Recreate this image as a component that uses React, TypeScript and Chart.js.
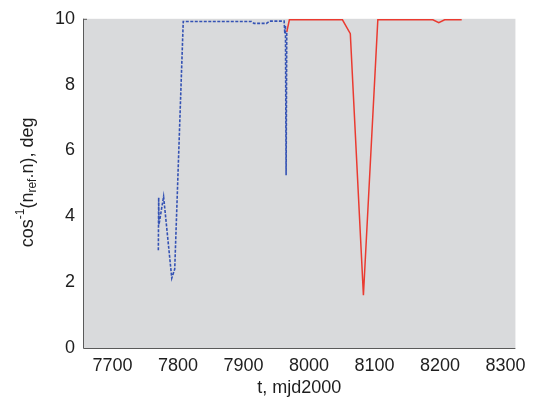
import React, { useEffect, useRef } from "react";
import { Chart, registerables } from "chart.js";

Chart.register(...registerables);

// ---- data ----
const xTickValues = [7700, 7800, 7900, 8000, 8100, 8200, 8300];
const yTickValues = [0, 2, 4, 6, 8, 10];

const blueT = [7770, 7770.5, 7771, 7778, 7790.5, 7795, 7808, 7912, 7916, 7935, 7940, 7962, 7963, 7964, 7965, 7966];
const blueV = [2.97, 4.57, 3.75, 4.6, 2.12, 2.4, 9.92, 9.92, 9.86, 9.86, 9.93, 9.93, 9.55, 9.8, 5.25, 9.6];

const redT = [7966, 7970, 8051, 8063, 8083, 8105, 8189, 8198, 8207, 8233];
const redV = [9.6, 9.97, 9.97, 9.55, 1.6, 9.97, 9.97, 9.88, 9.97, 9.97];

const X_MIN = 7655;
const X_MAX = 8315;
const FONT = "'Liberation Sans', Arial, sans-serif";

const plotPlugin = {
  id: "plotDecor",
  beforeDraw(chart: any) {
    const { ctx, chartArea } = chart;
    const { left, top, right, bottom } = chartArea;
    ctx.save();
    ctx.fillStyle = "#d9dadc";
    ctx.fillRect(left, top, right - left, bottom - top);
    ctx.restore();
  },
  beforeDatasetsDraw(chart: any) {
    const { ctx, chartArea } = chart;
    const { left, top, right, bottom } = chartArea;
    ctx.save();
    ctx.strokeStyle = "#5a5a5a";
    ctx.lineWidth = 1;
    ctx.beginPath();
    ctx.moveTo(left + 0.5, top);
    ctx.lineTo(left + 0.5, bottom + 0.5);
    ctx.lineTo(right, bottom + 0.5);
    ctx.stroke();
    // small tick at the top of the y axis
    ctx.beginPath();
    ctx.moveTo(left, top + 0.5);
    ctx.lineTo(left + 4, top + 0.5);
    ctx.stroke();
    ctx.restore();
  },
  afterDraw(chart: any) {
    const { ctx, chartArea } = chart;
    const cy = (chartArea.top + chartArea.bottom) / 2 - 1;
    const cx = 28;
    const big = `18px ${FONT}`;
    const small = `12px ${FONT}`;
    const segs = [
      { t: "cos", f: big, dy: 0 },
      { t: "-1", f: small, dy: -7 },
      { t: "(n", f: big, dy: 0 },
      { t: "ref", f: small, dy: 5 },
      { t: ".n), deg", f: big, dy: 0 },
    ];
    ctx.save();
    ctx.translate(cx, cy);
    ctx.rotate(-Math.PI / 2);
    ctx.fillStyle = "#1e1e1e";
    ctx.textBaseline = "middle";
    ctx.textAlign = "left";
    let total = 0;
    for (const s of segs) {
      ctx.font = s.f;
      total += ctx.measureText(s.t).width;
    }
    let x = -total / 2;
    for (const s of segs) {
      ctx.font = s.f;
      ctx.fillText(s.t, x, s.dy);
      x += ctx.measureText(s.t).width;
    }
    ctx.restore();
  },
};

export default function App() {
  const ref = useRef<HTMLCanvasElement | null>(null);

  useEffect(() => {
    if (!ref.current) return;
    const chart = new Chart(ref.current, {
      type: "line",
      data: {
        datasets: [
          {
            label: "blue",
            data: blueT.map((t, i) => ({ x: t, y: blueV[i] })),
            borderColor: "#3452b4",
            borderWidth: 1.6,
            borderDash: [3, 1.5],
            pointRadius: 0,
            tension: 0,
            fill: false,
          },
          {
            label: "red",
            data: redT.map((t, i) => ({ x: t, y: redV[i] })),
            borderColor: "#ea3a30",
            borderWidth: 1.5,
            pointRadius: 0,
            tension: 0,
            fill: false,
          },
        ],
      },
      options: {
        animation: false,
        responsive: false,
        maintainAspectRatio: false,
        layout: { padding: { top: 15, right: 17, left: 0, bottom: 0 } },
        plugins: {
          legend: { display: false },
          tooltip: { enabled: false },
          title: { display: false },
        },
        scales: {
          x: {
            type: "linear",
            min: X_MIN,
            max: X_MAX,
            grid: { display: false, drawTicks: false },
            border: { display: false },
            afterBuildTicks: (s: any) => {
              s.ticks = xTickValues.map((v) => ({ value: v }));
            },
            afterFit: (s: any) => {
              s.height = 56;
            },
            ticks: {
              autoSkip: false,
              maxRotation: 0,
              padding: 7,
              color: "#1e1e1e",
              font: { family: FONT, size: 18 },
              callback: (v: any) => String(v),
            },
            title: {
              display: true,
              text: "t, mjd2000",
              color: "#1e1e1e",
              font: { family: FONT, size: 18 },
              padding: { top: 0, bottom: 5 },
            },
          },
          y: {
            type: "linear",
            min: 0,
            max: 10,
            grid: { display: false, drawTicks: false },
            border: { display: false },
            afterBuildTicks: (s: any) => {
              s.ticks = yTickValues.map((v) => ({ value: v }));
            },
            afterFit: (s: any) => {
              s.width = 83;
            },
            ticks: {
              padding: 8,
              color: "#1e1e1e",
              font: { family: FONT, size: 18 },
              callback: (v: any) => String(v),
            },
          },
        },
      },
      plugins: [plotPlugin],
    });
    return () => chart.destroy();
  }, []);

  return (
    <div style={{ position: "absolute", left: 0, top: 0, width: 533, height: 404, background: "#fff" }}>
      <canvas ref={ref} width={533} height={404} style={{ display: "block" }} />
    </div>
  );
}
